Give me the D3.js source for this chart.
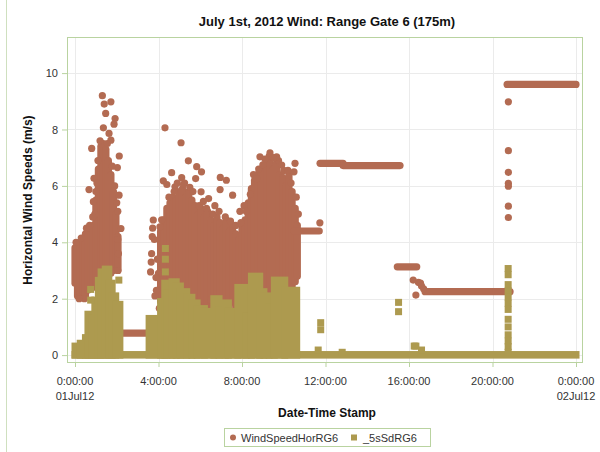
<!DOCTYPE html>
<html>
<head>
<meta charset="utf-8">
<script src="https://cdn.jsdelivr.net/npm/d3@7"></script>
<style>
  body { margin: 0; background: #fff; }
  svg { display: block; font-family: "Liberation Sans", Arial, sans-serif; }
</style>
</head>
<body>
<svg id="chart" width="600" height="452"></svg>
<script>
// Time is in hours after midnight, 01Jul12. Speeds in m/s.

const chartTitle = "July 1st, 2012 Wind: Range Gate 6 (175m)";
const seriesNames = ["WindSpeedHorRG6", "_5sSdRG6"];
const yTicks = [0, 2, 4, 6, 8, 10];
const xTicks = [0, 4, 8, 12, 16, 20, 24];
const xTickLabels = [["0:00:00", "01Jul12"], ["4:00:00"], ["8:00:00"], ["12:00:00"], ["16:00:00"], ["20:00:00"], ["0:00:00", "02Jul12"]];

// WindSpeedHorRG6: dense bursts of readings, each [hour, lowest, highest]
const windBursts = [
  [0.00, 2.55, 3.80], [0.12, 2.10, 3.90], [0.25, 2.20, 3.95], [0.38, 2.25, 4.05],
  [0.50, 2.05, 4.30], [0.62, 2.30, 4.40], [0.75, 2.40, 4.45], [0.88, 2.50, 4.60],
  [1.00, 2.40, 5.50], [1.12, 2.50, 6.60], [1.24, 2.60, 7.40], [1.36, 2.50, 7.50],
  [1.48, 2.60, 7.30], [1.60, 2.80, 6.90], [1.72, 2.90, 6.40], [1.84, 3.00, 5.80],
  [1.96, 3.20, 5.00], [2.06, 3.00, 4.20],
  [4.10, 1.90, 4.40], [4.25, 1.80, 4.80], [4.40, 1.90, 5.20], [4.55, 2.00, 5.40],
  [4.70, 1.90, 5.60], [4.85, 2.10, 5.50], [5.00, 2.00, 5.80], [5.15, 1.90, 5.90],
  [5.30, 2.00, 5.60], [5.45, 2.20, 5.80], [5.60, 2.10, 5.50], [5.75, 1.90, 5.30],
  [5.90, 2.00, 5.00], [6.05, 1.80, 5.20], [6.20, 1.90, 4.90], [6.35, 1.70, 5.10],
  [6.50, 1.90, 4.80], [6.65, 1.80, 4.60], [6.80, 1.70, 4.90], [6.95, 1.80, 4.70],
  [7.10, 1.90, 4.50], [7.25, 1.70, 4.80], [7.40, 1.80, 4.40], [7.55, 1.90, 4.60],
  [7.70, 1.70, 4.30], [7.85, 1.80, 4.10], [8.00, 1.90, 4.50], [8.15, 1.80, 4.80],
  [8.30, 1.90, 5.40], [8.45, 1.80, 5.90], [8.60, 2.00, 6.20], [8.75, 1.90, 6.40],
  [8.90, 2.00, 6.60], [9.05, 2.10, 6.50], [9.20, 1.90, 6.80], [9.35, 2.00, 6.90],
  [9.50, 2.10, 6.60], [9.65, 2.00, 6.80], [9.80, 2.20, 6.40], [9.95, 2.10, 6.30],
  [10.10, 2.30, 6.00], [10.25, 2.20, 6.40], [10.40, 2.40, 5.80], [10.55, 2.60, 5.20],
  [10.65, 2.80, 4.60]
];

// WindSpeedHorRG6: steady stretches, each [from hour, to hour, speed]
const windSteady = [
  [2.22, 3.60, 0.78], [10.50, 11.70, 4.40], [11.74, 12.84, 6.80], [12.84, 15.57, 6.72],
  [15.44, 16.37, 3.13], [16.77, 20.84, 2.25], [20.70, 24.00, 9.60]
];

// WindSpeedHorRG6: single readings, each [hour, speed]
const windPoints = [
  [1.31, 9.20], [1.72, 8.98], [1.40, 8.90], [1.47, 8.57], [1.92, 8.39], [1.87, 8.19],
  [1.36, 8.06], [1.63, 7.86], [1.72, 7.62], [0.80, 7.33], [2.12, 7.06], [2.03, 6.65],
  [0.91, 6.27], [0.67, 5.87], [2.11, 5.67], [0.88, 5.44], [2.05, 5.10], [2.20, 4.49],
  [2.05, 4.10], [2.08, 3.60], [2.05, 3.00], [0.95, 5.00], [1.05, 6.10], [0.85, 4.90],
  [0.05, 4.00], [0.30, 4.15], [0.55, 4.50], [0.70, 4.60], [0.45, 2.00], [0.20, 2.00],
  [1.00, 5.80], [1.10, 6.90], [1.20, 7.60], [1.55, 7.50], [1.78, 6.70], [1.90, 6.00],
  [2.00, 5.40],
  [3.62, 2.95], [3.65, 3.30], [3.67, 3.60], [3.70, 4.20], [3.72, 4.50], [3.75, 4.79],
  [3.80, 4.10], [3.83, 2.10], [3.90, 2.30], [4.04, 1.66], [3.95, 3.40], [4.00, 2.90],
  [4.07, 4.55], [3.88, 2.75],
  [4.31, 8.06], [5.08, 7.53], [5.43, 6.89], [5.83, 6.68], [4.63, 6.47], [4.23, 6.18],
  [5.11, 6.29], [4.79, 5.97], [6.06, 6.50], [5.78, 6.26], [6.96, 6.30], [7.25, 6.20],
  [6.04, 5.79], [6.95, 5.87], [7.55, 5.67], [4.40, 6.05], [4.90, 6.10], [5.25, 6.10],
  [6.40, 5.55], [6.70, 5.30], [7.90, 5.10], [8.10, 5.30],
  [4.15, 4.80], [4.50, 5.60], [4.75, 5.80], [5.20, 6.05], [5.50, 5.95], [5.65, 5.80],
  [5.95, 5.30], [6.15, 5.45], [6.30, 5.20], [6.60, 5.00], [6.90, 5.10], [7.20, 4.90],
  [7.45, 4.75], [7.70, 4.60], [7.95, 4.70], [8.20, 5.10], [8.40, 5.70], [8.55, 6.40],
  [8.80, 6.60], [9.00, 6.75], [9.30, 7.05], [9.75, 6.90], [10.00, 6.55], [10.35, 6.10],
  [10.60, 5.60], [10.70, 5.00],
  [9.34, 7.17], [8.86, 7.03], [9.66, 7.03], [10.54, 6.80], [9.90, 6.74], [10.49, 6.50],
  [8.70, 6.26], [9.10, 6.95], [9.50, 7.00], [10.20, 6.55],
  [5.90, 1.77], [6.50, 1.95], [7.40, 1.60], [8.30, 1.55],
  [11.73, 4.69],
  [16.20, 2.66], [16.45, 2.58], [16.55, 2.55], [16.33, 2.13], [16.60, 2.45], [16.70, 2.35],
  [20.76, 8.98], [20.76, 7.25], [20.76, 6.48], [20.76, 6.09], [20.76, 5.99], [20.76, 5.28], [20.76, 4.88]
];

// _5sSdRG6: packed stretches reaching down to zero, each [from hour, to hour, highest]
const sdBlocks = [
  [0.00, 24.00, 0.02],
  [0.00, 0.25, 0.32], [0.25, 0.50, 0.42], [0.50, 0.62, 0.62], [0.62, 0.80, 1.45],
  [0.80, 0.95, 1.30], [0.95, 1.12, 1.95], [1.12, 1.25, 2.65], [1.25, 1.45, 2.95],
  [1.45, 1.62, 3.05], [1.62, 1.78, 2.55], [1.78, 1.95, 2.10], [1.95, 2.15, 1.80],
  [3.55, 4.10, 1.30], [4.10, 4.30, 1.90], [4.30, 4.40, 2.55], [4.40, 4.65, 2.20],
  [4.65, 4.85, 2.60], [4.85, 5.05, 2.45], [5.05, 5.35, 2.25], [5.35, 5.60, 2.05],
  [5.60, 5.85, 1.85], [5.85, 6.20, 1.65], [6.20, 6.65, 1.55], [6.65, 6.90, 2.00],
  [6.90, 7.20, 1.60], [7.20, 7.35, 1.85], [7.35, 7.80, 1.55], [7.80, 8.20, 2.40],
  [8.20, 8.45, 1.40], [8.45, 8.85, 2.80], [8.85, 9.05, 2.25], [9.05, 9.30, 2.10],
  [9.30, 9.55, 1.70], [9.55, 10.05, 2.66], [10.05, 10.62, 2.30]
];

// _5sSdRG6: single readings, each [hour, value]
const sdPoints = [
  [0.75, 2.33], [0.75, 1.95], [2.10, 2.66],
  [4.33, 3.78], [4.33, 3.40], [4.33, 2.95],
  [11.77, 1.15], [11.77, 0.90], [11.65, 0.18], [12.80, 0.10],
  [15.50, 1.87], [15.50, 1.54], [16.25, 0.32], [16.33, 0.32], [16.60, 0.18],
  [20.75, 3.07], [20.75, 2.85], [20.75, 2.50], [20.75, 2.28], [20.75, 2.06], [20.75, 1.84],
  [20.75, 1.62], [20.75, 1.27], [20.75, 1.00], [20.75, 0.72], [20.75, 0.50], [20.75, 0.30], [20.75, 0.10]
];

const windColor = "#b36b52";
const sdColor = "#ad9a4f";
const frameColor = "#b9d3a0";
const gridColor = "#ebebeb";

const svg = d3.select("#chart");
const plot = { left: 67, top: 37, right: 583, bottom: 363 };

const x = d3.scaleLinear().domain([0, 24]).range([75, 576]);
const y = d3.scaleLinear().domain([-0.28, 11.28]).range([plot.bottom, plot.top]);

// page edge rule
svg.append("line").attr("x1", 6.5).attr("x2", 6.5).attr("y1", 0).attr("y2", 452)
  .attr("stroke", "#cfe0bf").attr("stroke-width", 1);

svg.append("text").attr("x", 327).attr("y", 26).attr("text-anchor", "middle")
  .attr("font-size", 13).attr("font-weight", "bold").attr("fill", "#111").text(chartTitle);

// grid
const grid = svg.append("g");
grid.selectAll(".gx").data(xTicks).join("line")
  .attr("x1", d => Math.round(x(d)) + 0.5).attr("x2", d => Math.round(x(d)) + 0.5)
  .attr("y1", plot.top).attr("y2", plot.bottom).attr("stroke", gridColor);
grid.selectAll(".gy").data(yTicks).join("line")
  .attr("y1", d => Math.round(y(d)) + 0.5).attr("y2", d => Math.round(y(d)) + 0.5)
  .attr("x1", plot.left).attr("x2", plot.right).attr("stroke", gridColor);

svg.append("defs").append("clipPath").attr("id", "plotClip").append("rect")
  .attr("x", plot.left + 1).attr("y", plot.top + 1)
  .attr("width", plot.right - plot.left - 2).attr("height", plot.bottom - plot.top - 2);

const marks = svg.append("g").attr("clip-path", "url(#plotClip)");
const R = 3.6, S = 7;

// WindSpeedHorRG6 markers
marks.append("g").selectAll("line").data(windBursts).join("line")
  .attr("x1", d => x(d[0])).attr("x2", d => x(d[0]))
  .attr("y1", d => y(d[1])).attr("y2", d => y(d[2]))
  .attr("stroke", windColor).attr("stroke-width", 2 * R).attr("stroke-linecap", "round");
marks.append("g").selectAll("line").data(windSteady).join("line")
  .attr("x1", d => x(d[0])).attr("x2", d => x(d[1]))
  .attr("y1", d => y(d[2])).attr("y2", d => y(d[2]))
  .attr("stroke", windColor).attr("stroke-width", 2 * R).attr("stroke-linecap", "round");
marks.append("g").selectAll("circle").data(windPoints).join("circle")
  .attr("cx", d => x(d[0])).attr("cy", d => y(d[1])).attr("r", R).attr("fill", windColor);

// _5sSdRG6 markers
marks.append("g").selectAll("rect").data(sdBlocks).join("rect")
  .attr("x", d => x(d[0]) - S / 2).attr("y", d => y(d[2]) - S / 2)
  .attr("width", d => x(d[1]) - x(d[0]) + S).attr("height", d => y(0) - y(d[2]) + S)
  .attr("fill", sdColor);
marks.append("g").selectAll("rect").data(sdPoints).join("rect")
  .attr("x", d => x(d[0]) - S / 2).attr("y", d => y(d[1]) - S / 2)
  .attr("width", S).attr("height", S).attr("fill", sdColor);

// frame
svg.append("rect").attr("x", plot.left + 0.5).attr("y", plot.top + 0.5)
  .attr("width", plot.right - plot.left - 1).attr("height", plot.bottom - plot.top - 1)
  .attr("fill", "none").attr("stroke", frameColor);

// axes
const yAxis = svg.append("g").attr("transform", `translate(${plot.left},0)`)
  .call(d3.axisLeft(y).tickValues(yTicks).tickSize(5).tickPadding(4).tickFormat(d3.format("d")));
const xAxis = svg.append("g").attr("transform", `translate(0,${plot.bottom})`)
  .call(d3.axisBottom(x).tickValues(xTicks).tickSize(4).tickFormat(""));
[yAxis, xAxis].forEach(a => {
  a.select(".domain").remove();
  a.selectAll(".tick line").attr("stroke", frameColor);
});
yAxis.selectAll(".tick text").attr("font-size", 11).attr("fill", "#333")
  .attr("font-family", "Liberation Sans, Arial, sans-serif");

// two-line time labels
const xl = svg.append("g").selectAll("text").data(xTicks).join("text")
  .attr("x", d => x(d)).attr("y", 385).attr("text-anchor", "middle")
  .attr("font-size", 11).attr("fill", "#333");
xl.each(function(d, i) {
  const t = d3.select(this);
  xTickLabels[i].forEach((s, k) => t.append("tspan").attr("x", x(d)).attr("dy", k ? 15 : 0).text(s));
});

svg.append("text").attr("x", 327).attr("y", 417).attr("text-anchor", "middle")
  .attr("font-size", 12).attr("font-weight", "bold").attr("fill", "#111").text("Date-Time Stamp");
svg.append("text").attr("transform", `translate(32,${(plot.top + plot.bottom) / 2}) rotate(-90)`)
  .attr("text-anchor", "middle").attr("font-size", 12).attr("font-weight", "bold")
  .attr("fill", "#111").text("Horizontal Wind Speeds (m/s)");

// legend
const lg = svg.append("g");
lg.append("rect").attr("x", 224.5).attr("y", 428.5).attr("width", 206).attr("height", 18)
  .attr("fill", "#fff").attr("stroke", frameColor);
lg.append("circle").attr("cx", 233).attr("cy", 437.5).attr("r", 3).attr("fill", windColor);
lg.append("text").attr("x", 241).attr("y", 441.5).attr("font-size", 11).attr("fill", "#333").text(seriesNames[0]);
lg.append("rect").attr("x", 351).attr("y", 434.5).attr("width", 6).attr("height", 6).attr("fill", sdColor);
lg.append("text").attr("x", 363).attr("y", 441.5).attr("font-size", 11).attr("fill", "#333").text(seriesNames[1]);
</script>
</body>
</html>
